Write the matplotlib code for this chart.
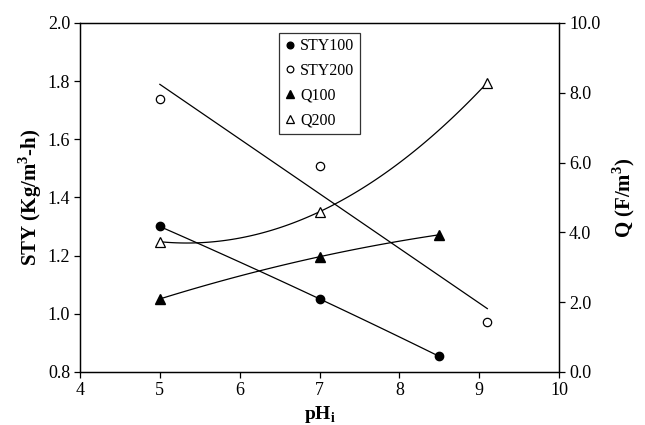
import matplotlib
matplotlib.use("Agg")
import matplotlib.pyplot as plt
import numpy as np

plt.rcParams['font.family'] = ['Liberation Serif', 'DejaVu Serif']
plt.rcParams['mathtext.fontset'] = 'custom'
plt.rcParams['mathtext.rm'] = 'Liberation Serif'
plt.rcParams['mathtext.bf'] = 'Liberation Serif:bold'

# pH values
ph_a = [5, 7, 8.5]
ph_b = [5, 7, 9.1]

# left axis: STY (Kg/m3-h)
sty100 = [1.300, 1.051, 0.853]
sty200 = [1.740, 1.508, 0.971]

# right axis: Q (F/m3)
q100 = [2.09, 3.30, 3.93]
q200 = [3.73, 4.59, 8.29]

fig = plt.figure(figsize=(6.45, 4.25), dpi=100)
ax = fig.add_axes([0.124, 0.125, 0.743, 0.821])
ax2 = ax.twinx()

def trend(axis, x, y, deg):
    c = np.polyfit(x, y, deg)
    xx = np.linspace(min(x), max(x), 100)
    axis.plot(xx, np.polyval(c, xx), color='black', lw=0.9)

trend(ax, ph_a, sty100, 2)
trend(ax, ph_b, sty200, 1)
trend(ax2, ph_a, q100, 2)
trend(ax2, ph_b, q200, 2)

h1, = ax.plot(ph_a, sty100, 'o', color='black', ms=6, label='STY100')
h2, = ax.plot(ph_b, sty200, 'o', mfc='white', mec='black', mew=0.9, ms=6, label='STY200')
h3, = ax2.plot(ph_a, q100, '^', color='black', ms=6.5, label='Q100')
h4, = ax2.plot(ph_b, q200, '^', mfc='white', mec='black', mew=0.9, ms=6.5, label='Q200')

ax.set_xlim(4, 10)
ax.set_ylim(0.8, 2.0)
ax2.set_ylim(0, 10)
ax.set_xticks(range(4, 11))
ax.set_yticks(np.arange(0.8, 2.01, 0.2))
ax.set_yticklabels(['%.1f' % v for v in np.arange(0.8, 2.01, 0.2)])
ax2.set_yticks(np.arange(0, 10.1, 2))
ax2.set_yticklabels(['%.1f' % v for v in np.arange(0, 10.1, 2)])

for a in (ax, ax2):
    a.tick_params(direction='out', length=4, width=0.9, labelsize=13, colors='black', pad=3)
    for s in a.spines.values():
        s.set_linewidth(0.9)

ax.set_xlabel(r'pH$_\mathbf{i}$', fontsize=14, fontweight='bold', labelpad=4)
ax.set_ylabel(r'STY (Kg/m$^\mathbf{3}$-h)', fontsize=15, fontweight='bold', labelpad=3)
ax2.set_ylabel(r'Q (F/m$^\mathbf{3}$)', fontsize=15, fontweight='bold', labelpad=7)

leg = ax.legend(handles=[h1, h2, h3, h4], loc='upper left', bbox_to_anchor=(0.3995, 0.995),
                fontsize=11.5, frameon=True, fancybox=False, edgecolor='black', markerscale=0.8,
                handlelength=0.6, handletextpad=0.35, labelspacing=0.55, borderpad=0.35)
leg.get_frame().set_linewidth(0.9)

fig.savefig('out.png', dpi=100)
